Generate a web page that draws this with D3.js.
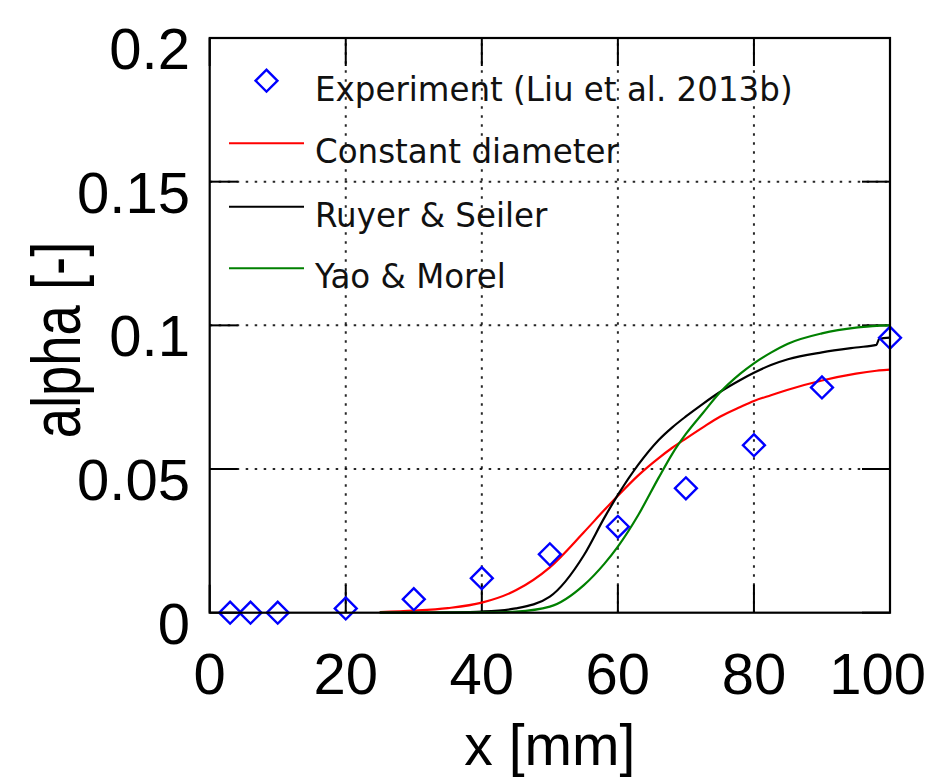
<!DOCTYPE html>
<html>
<head>
<meta charset="utf-8">
<script src="https://cdn.jsdelivr.net/npm/d3@7"></script>
<style>
  html, body { margin: 0; padding: 0; background: #fff; }
  svg { display: block; }
</style>
</head>
<body>
<svg id="chart" width="936" height="783"></svg>
<script>
// ---- data ----
const xTicks = [0, 20, 40, 60, 80, 100];
const xTickLabels = ["0", "20", "40", "60", "80", "100"];
const yTicks = [0, 0.05, 0.1, 0.15, 0.2];
const yTickLabels = ["0", "0.05", "0.1", "0.15", "0.2"];

const expX = [3, 6, 10, 20, 30, 40, 50, 60, 70, 80, 90, 100];
const expY = [0, 0, 0, 0.0015, 0.0047, 0.012, 0.0203, 0.0299, 0.0433, 0.0583, 0.0784, 0.0957];

const curveX = [25, 30, 35, 40, 45, 50, 55, 58, 60, 63, 66, 68, 70, 72.5, 75, 78, 80, 82.5, 85, 90, 95, 98, 98.4, 100];
const constantDiameter = [0.0002, 0.0007, 0.0016, 0.0035, 0.0078, 0.0158, 0.0280, 0.0357, 0.0407, 0.0478, 0.0538, 0.0574, 0.0606, 0.0645, 0.0682, 0.0716, 0.0737, 0.0757, 0.0776, 0.0808, 0.0832, 0.0842, 0.0843, 0.0846];
const ruyerSeiler = [0.0000, 0.0000, 0.0001, 0.0004, 0.0015, 0.0056, 0.0200, 0.0330, 0.0410, 0.0515, 0.0601, 0.0645, 0.0683, 0.0727, 0.0768, 0.0810, 0.0835, 0.0862, 0.0882, 0.0906, 0.0923, 0.0932, 0.0952, 0.0957];
const yaoMorel = [0.0000, 0.0000, 0.0000, 0.0001, 0.0004, 0.0021, 0.0096, 0.0170, 0.0230, 0.0340, 0.0470, 0.0553, 0.0622, 0.0695, 0.0766, 0.0832, 0.0868, 0.0905, 0.0936, 0.0972, 0.0992, 0.0998, 0.0999, 0.1000];

const seriesNames = ["Constant diameter", "Ruyer & Seiler", "Yao & Morel"];
const seriesColors = ["#ff0000", "#000000", "#008000"];
const expLabel = "Experiment (Liu et al. 2013b)";
const xLabel = "x [mm]";
const yLabel = "alpha [-]";

// ---- layout ----
const W = 936;
const L = 209.7, R = 890, T = 38, B = 612.7;
const svg = d3.select("#chart");
const x = d3.scaleLinear().domain([0, 100]).range([L, R]);
const y = d3.scaleLinear().domain([0, 0.2]).range([B, T]);
const tickLen = 28;

// grid
const grid = svg.append("g").attr("stroke", "#000").attr("stroke-width", 2)
  .attr("stroke-dasharray", "2.5,6.5").attr("fill", "none").attr("stroke-opacity", 0.85);
grid.selectAll("line.v").data(xTicks.slice(1, -1)).join("line")
  .attr("x1", d => x(d)).attr("x2", d => x(d)).attr("y1", B).attr("y2", T);
grid.selectAll("line.h").data(yTicks.slice(1, -1)).join("line")
  .attr("x1", L).attr("x2", R).attr("y1", d => y(d)).attr("y2", d => y(d));

// ticks (inward, all four sides)
const ticks = svg.append("g").attr("stroke", "#000").attr("stroke-width", 2);
xTicks.forEach(d => {
  ticks.append("line").attr("x1", x(d)).attr("x2", x(d)).attr("y1", B).attr("y2", B - tickLen);
  ticks.append("line").attr("x1", x(d)).attr("x2", x(d)).attr("y1", T).attr("y2", T + tickLen);
});
yTicks.forEach(d => {
  ticks.append("line").attr("x1", L).attr("x2", L + tickLen).attr("y1", y(d)).attr("y2", y(d));
  ticks.append("line").attr("x1", R).attr("x2", R - tickLen).attr("y1", y(d)).attr("y2", y(d));
});

// curves
const seriesVals = [constantDiameter, ruyerSeiler, yaoMorel];
const line = d3.line().x(d => x(d[0])).y(d => y(d[1])).curve(d3.curveMonotoneX);
seriesVals.forEach((vals, i) => {
  svg.append("path")
    .datum(curveX.map((xv, j) => [xv, vals[j]]))
    .attr("fill", "none").attr("stroke", seriesColors[i]).attr("stroke-width", 2.2)
    .attr("d", line);
});

// diamonds
const diamond = d3.symbol().type(d3.symbolSquare).size(240);
svg.append("g").selectAll("path").data(expX.map((xv, j) => [xv, expY[j]])).join("path")
  .attr("d", diamond)
  .attr("transform", d => `translate(${x(d[0])},${y(d[1])}) rotate(45)`)
  .attr("fill", "none").attr("stroke", "#0000ff").attr("stroke-width", 2.4);

// frame
svg.append("rect").attr("x", L).attr("y", T).attr("width", R - L).attr("height", B - T)
  .attr("fill", "none").attr("stroke", "#000").attr("stroke-width", 2.2);

// tick labels
const tickFont = "'Liberation Sans', Arial, Helvetica, sans-serif";
svg.append("g").selectAll("text").data(xTicks).join("text")
  .attr("y", B + 81)
  .attr("text-anchor", "middle").attr("font-family", tickFont).attr("font-size", 58)
  .text((d, i) => xTickLabels[i])
  .attr("x", function (d) {
    const half = this.getComputedTextLength() / 2;
    return Math.min(x(d), W - 10 - half);
  });
svg.append("g").selectAll("text").data(yTicks).join("text")
  .attr("x", 190).attr("y", d => y(d) + 31)
  .attr("text-anchor", "end").attr("font-family", tickFont).attr("font-size", 58)
  .text((d, i) => yTickLabels[i]);

// axis labels
svg.append("text").attr("x", (L + R) / 2).attr("y", 765)
  .attr("text-anchor", "middle").attr("font-family", tickFont).attr("font-size", 57)
  .text(xLabel);
svg.append("text")
  .attr("transform", "translate(80,340) rotate(-90) scale(0.8,1)")
  .attr("text-anchor", "middle").attr("font-family", tickFont).attr("font-size", 68)
  .text(yLabel);

// legend
const legFont = "'DejaVu Sans', Verdana, sans-serif";
const rowY = [80.7, 143.3, 206.7, 268.3];
const textX = 315;
const lg = svg.append("g");
lg.append("path").attr("d", diamond)
  .attr("transform", `translate(266.5,${rowY[0]}) rotate(45)`)
  .attr("fill", "none").attr("stroke", "#0000ff").attr("stroke-width", 2.4);
seriesNames.forEach((n, i) => {
  lg.append("line").attr("x1", 229).attr("x2", 304)
    .attr("y1", rowY[i + 1]).attr("y2", rowY[i + 1])
    .attr("stroke", seriesColors[i]).attr("stroke-width", 2);
});
[expLabel].concat(seriesNames).forEach((n, i) => {
  lg.append("text")
    .attr("transform", `translate(${textX},${rowY[i] + 20}) scale(0.985,1)`)
    .attr("font-family", legFont).attr("font-size", 33).attr("fill", "#111")
    .text(n);
});
</script>
</body>
</html>
